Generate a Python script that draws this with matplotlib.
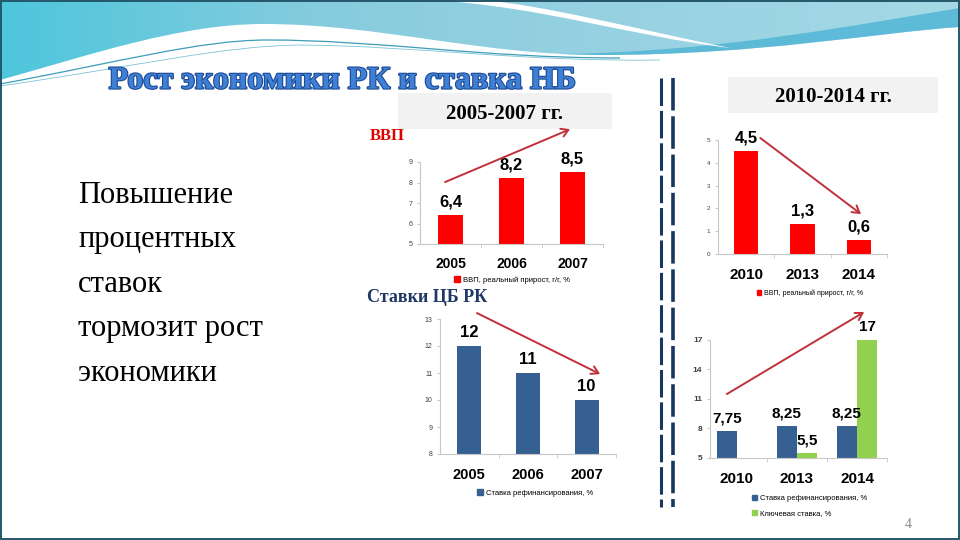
import numpy as np
import matplotlib
matplotlib.use("Agg")
import matplotlib.pyplot as plt
from matplotlib.path import Path
from matplotlib.patches import PathPatch, Rectangle, Patch
import matplotlib.patheffects as pe
from matplotlib.colors import LinearSegmentedColormap

# ---------------- data ----------------
years_a = ["2005", "2006", "2007"]
gdp_a = [6.4, 8.2, 8.5]
gdp_a_labels = ["6,4", "8,2", "8,5"]
rate_a = [12, 11, 10]
rate_a_labels = ["12", "11", "10"]

years_b = ["2010", "2013", "2014"]
gdp_b = [4.5, 1.3, 0.6]
gdp_b_labels = ["4,5", "1,3", "0,6"]
refi_b = [7.75, 8.25, 8.25]
refi_b_labels = ["7,75", "8,25", "8,25"]
key_b = [np.nan, 5.5, 17]
key_b_labels = ["", "5,5", "17"]

gdp_legend = "ВВП, реальный прирост, г/г, %"
refi_legend = "Ставка рефинансирования, %"
key_legend = "Ключевая ставка, %"

title = "Рост экономики РК и ставка НБ"
left_text = "Повышение\nпроцентных\nставок\nтормозит рост\nэкономики"

RED = "#FF0000"
BLUE = "#376092"
GREEN = "#92D050"
ARROW = "#C0303A"
NUM_FONT = ["Liberation Sans Narrow", "Liberation Sans", "DejaVu Sans"]
SERIF = ["Liberation Serif", "DejaVu Serif"]

W, H = 960, 540
fig = plt.figure(figsize=(9.6, 5.4), dpi=100)
fig.patch.set_facecolor("white")

# ---------------- background decoration ----------------
bg = fig.add_axes([0, 0, 1, 1], zorder=-10)
bg.set_xlim(0, W)
bg.set_ylim(H, 0)
bg.axis("off")

band_verts = [(0, 0), (0, 80),
              (90, 55), (180, 24), (263, 24),
              (380, 24), (480, 55), (600, 55),
              (760, 55), (880, 32), (960, 27),
              (960, 0), (0, 0)]
band_codes = [Path.MOVETO, Path.LINETO,
              Path.CURVE4, Path.CURVE4, Path.CURVE4,
              Path.CURVE4, Path.CURVE4, Path.CURVE4,
              Path.CURVE4, Path.CURVE4, Path.CURVE4,
              Path.LINETO, Path.CLOSEPOLY]
band = PathPatch(Path(band_verts, band_codes), facecolor="none", edgecolor="none")
bg.add_patch(band)
cmap = LinearSegmentedColormap.from_list("band", ["#4EC6DC", "#86CCDE", "#98D2E2", "#A5D9E6"])
grad = np.linspace(0, 1, 256).reshape(1, -1)
im = bg.imshow(grad, cmap=cmap, extent=[0, W, 90, 0], aspect="auto", zorder=1)
im.set_clip_path(band)

# brighter band near lower boundary (right)
bb_verts = [(560, 54), (720, 52), (860, 24), (960, 8),
            (960, 27), (880, 32), (760, 55), (600, 55), (560, 54)]
bb_codes = [Path.MOVETO, Path.CURVE4, Path.CURVE4, Path.CURVE4,
            Path.LINETO, Path.CURVE4, Path.CURVE4, Path.CURVE4, Path.CLOSEPOLY]
bg.add_patch(PathPatch(Path(bb_verts, bb_codes), facecolor="#52B6D6", edgecolor="none", zorder=2, alpha=0.85))

# white streak
ws_verts = [(430, 0), (540, 6), (630, 36), (730, 48),
            (640, 30), (540, 4), (480, 0), (430, 0)]
ws_codes = [Path.MOVETO, Path.CURVE4, Path.CURVE4, Path.CURVE4,
            Path.CURVE4, Path.CURVE4, Path.CURVE4, Path.CLOSEPOLY]
bg.add_patch(PathPatch(Path(ws_verts, ws_codes), facecolor="white", edgecolor="none", zorder=3))

# thin lines
ln_verts = [(0, 84), (120, 62), (200, 40), (267, 40), (380, 40), (480, 58), (620, 58)]
ln_codes = [Path.MOVETO, Path.CURVE4, Path.CURVE4, Path.CURVE4, Path.CURVE4, Path.CURVE4, Path.CURVE4]
bg.add_patch(PathPatch(Path(ln_verts, ln_codes), facecolor="none", edgecolor="#3E9CB8", lw=0.9, zorder=3))
ln2 = [(0, 86), (140, 66), (220, 46), (300, 45), (420, 46), (520, 62), (660, 60)]
bg.add_patch(PathPatch(Path(ln2, ln_codes), facecolor="none", edgecolor="#7CC3D6", lw=0.6, zorder=3))

# gray header boxes
bg.add_patch(Rectangle((398, 93), 214, 36, facecolor="#F2F2F2", edgecolor="none", zorder=2))
bg.add_patch(Rectangle((728, 77), 210, 36, facecolor="#F2F2F2", edgecolor="none", zorder=2))

# divider dashed lines
for xd, lw in [(661, 2.2), (673, 2.6)]:
    bg.plot([xd, xd], [78, 507], color="#17375E", lw=lw, ls=(0, (9, 1.6)), zorder=2,
            solid_capstyle="butt", dash_capstyle="butt")

# slide border
bg.add_patch(Rectangle((0.7, 0.7), W - 1.4, H - 1.4, facecolor="none", edgecolor="#24566A", lw=1.4, zorder=5))

# ---------------- texts ----------------
fig.text(343 / W, 1 - 81 / H, title, ha="center", va="center", fontsize=23, fontweight="bold",
         family=SERIF, color="#3F7FD4",
         path_effects=[pe.withStroke(linewidth=1.6, foreground="#1C4A96")])
fig.text(505 / W, 1 - 114 / H, "2005-2007 гг.", ha="center", va="center", fontsize=15,
         fontweight="bold", family=SERIF, color="black")
fig.text(833 / W, 1 - 97 / H, "2010-2014 гг.", ha="center", va="center", fontsize=15,
         fontweight="bold", family=SERIF, color="black")
fig.text(370 / W, 1 - 136 / H, "ВВП", ha="left", va="center", fontsize=12,
         fontweight="bold", family=SERIF, color="#E00000")
fig.text(367 / W, 1 - 298 / H, "Ставки ЦБ РК", ha="left", va="center", fontsize=13,
         fontweight="bold", family=SERIF, color="#1F3864")
fig.text(78 / W, 1 - 181 / H, left_text, ha="left", va="top", fontsize=22,
         family=SERIF, color="black", linespacing=1.70)
fig.text(908 / W, 1 - 524 / H, "4", ha="center", va="center", fontsize=10,
         family=SERIF, color="#8C8C8C")


def px_axes(x0, y_top, x1, y_bot):
    return fig.add_axes([x0 / W, 1 - y_bot / H, (x1 - x0) / W, (y_bot - y_top) / H])


def style(ax, ylim, yticks, xlim, tick_fs=5, ybold=False):
    ax.set_facecolor("none")
    ax.set_ylim(*ylim)
    ax.set_xlim(*xlim)
    ax.set_yticks(yticks)
    ax.set_yticklabels([str(t) for t in yticks], fontsize=tick_fs, color="#404040",
                       family=NUM_FONT, fontweight="bold" if ybold else "normal")
    for s in ["top", "right"]:
        ax.spines[s].set_visible(False)
    for s in ["left", "bottom"]:
        ax.spines[s].set_color("#C8C8C8")
        ax.spines[s].set_linewidth(0.8)
    ax.tick_params(axis="y", length=2.5, color="#C8C8C8", pad=3)
    ax.tick_params(axis="x", which="major", length=0, pad=9)
    ax.set_xticks([0.5, 1.5, 2.5], minor=True)
    ax.tick_params(axis="x", which="minor", length=3, color="#C8C8C8")


def add_labels(ax, xs, vals, labels, fs):
    for x, v, lab in zip(xs, vals, labels):
        if lab and not np.isnan(v):
            ax.annotate(lab, (x, v), xytext=(0, 4), textcoords="offset points",
                        ha="center", va="bottom", fontsize=fs, fontweight="bold",
                        family=NUM_FONT, color="black", annotation_clip=False)


def arrow(ax, start, end):
    ax.annotate("", xy=end, xytext=start, xycoords="data", textcoords="data",
                annotation_clip=False,
                arrowprops=dict(arrowstyle="->,head_length=0.5,head_width=0.3",
                                color=ARROW, lw=1.4, shrinkA=0, shrinkB=0))


# ---------------- chart 1: GDP 2005-2007 ----------------
ax1 = px_axes(420, 162, 603, 244)
xa = np.arange(len(years_a))
ax1.bar(xa, gdp_a, width=0.41, color=RED, bottom=0)
style(ax1, (5, 9), [5, 6, 7, 8, 9], (-0.5, 2.5))
ax1.set_xticks(xa)
ax1.set_xticklabels(years_a, fontsize=10, fontweight="bold", family=NUM_FONT)
add_labels(ax1, xa, gdp_a, gdp_a_labels, 12)
arrow(ax1, (-0.09, 8.02), (1.96, 10.6))
ax1.legend(handles=[Patch(color=RED, label=gdp_legend)], loc="center",
           bbox_to_anchor=(512 / W, 1 - 280 / H), bbox_transform=fig.transFigure,
           frameon=False, prop={"family": NUM_FONT, "size": 5.5},
           handlelength=0.7, handleheight=0.7, handletextpad=0.4, borderpad=0)

# ---------------- chart 2: GDP 2010-2014 ----------------
ax2 = px_axes(718, 140, 887, 254)
xb = np.arange(len(years_b))
ax2.bar(xb, gdp_b, width=0.43, color=RED)
style(ax2, (0, 5), [0, 1, 2, 3, 4, 5], (-0.5, 2.5), tick_fs=4.5)
ax2.set_xticks(xb)
ax2.set_xticklabels(years_b, fontsize=11, fontweight="bold", family=NUM_FONT)
ax2.tick_params(axis="x", which="major", pad=10)
add_labels(ax2, xb, gdp_b, gdp_b_labels, 12)
arrow(ax2, (0.25, 5.09), (2.04, 1.75))
ax2.legend(handles=[Patch(color=RED, label=gdp_legend)], loc="center",
           bbox_to_anchor=(810 / W, 1 - 293 / H), bbox_transform=fig.transFigure,
           frameon=False, prop={"family": NUM_FONT, "size": 5},
           handlelength=0.7, handleheight=0.7, handletextpad=0.4, borderpad=0)

# ---------------- chart 3: rates 2005-2007 ----------------
ax3 = px_axes(440, 319, 616, 454)
ax3.bar(xa, rate_a, width=0.41, color=BLUE)
style(ax3, (8, 13), [8, 9, 10, 11, 12, 13], (-0.5, 2.5))
ax3.set_xticks(xa)
ax3.set_xticklabels(years_a, fontsize=10.5, fontweight="bold", family=NUM_FONT)
ax3.tick_params(axis="x", which="major", pad=10)
add_labels(ax3, xa, rate_a, rate_a_labels, 12)
arrow(ax3, (0.13, 13.22), (2.23, 10.96))
ax3.legend(handles=[Patch(color=BLUE, label=refi_legend)], loc="center",
           bbox_to_anchor=(535 / W, 1 - 493 / H), bbox_transform=fig.transFigure,
           frameon=False, prop={"family": NUM_FONT, "size": 5.5},
           handlelength=0.7, handleheight=0.7, handletextpad=0.4, borderpad=0)

# ---------------- chart 4: rates 2010-2014 ----------------
ax4 = px_axes(710, 340, 887, 458)
w4 = 0.34
ax4.bar(xb - w4 / 2, refi_b, width=w4, color=BLUE)
ax4.bar(xb + w4 / 2, key_b, width=w4, color=GREEN)
style(ax4, (5, 17), [5, 8, 11, 14, 17], (-0.45, 2.5), tick_fs=6, ybold=True)
ax4.set_xticks(xb)
ax4.set_xticklabels(years_b, fontsize=11, fontweight="bold", family=NUM_FONT)
ax4.tick_params(axis="x", which="major", pad=10)
add_labels(ax4, xb - w4 / 2, refi_b, refi_b_labels, 11)
add_labels(ax4, xb + w4 / 2, key_b, key_b_labels, 11)
arrow(ax4, (-0.17, 11.5), (2.12, 19.85))
ax4.legend(handles=[Patch(color=BLUE, label=refi_legend), Patch(color=GREEN, label=key_legend)],
           loc="center left", bbox_to_anchor=(748 / W, 1 - 506 / H), bbox_transform=fig.transFigure,
           frameon=False, prop={"family": NUM_FONT, "size": 5.5},
           handlelength=0.7, handleheight=0.7, handletextpad=0.4, borderpad=0, labelspacing=1.0)

fig.savefig("out.png", dpi=100, facecolor="white")
